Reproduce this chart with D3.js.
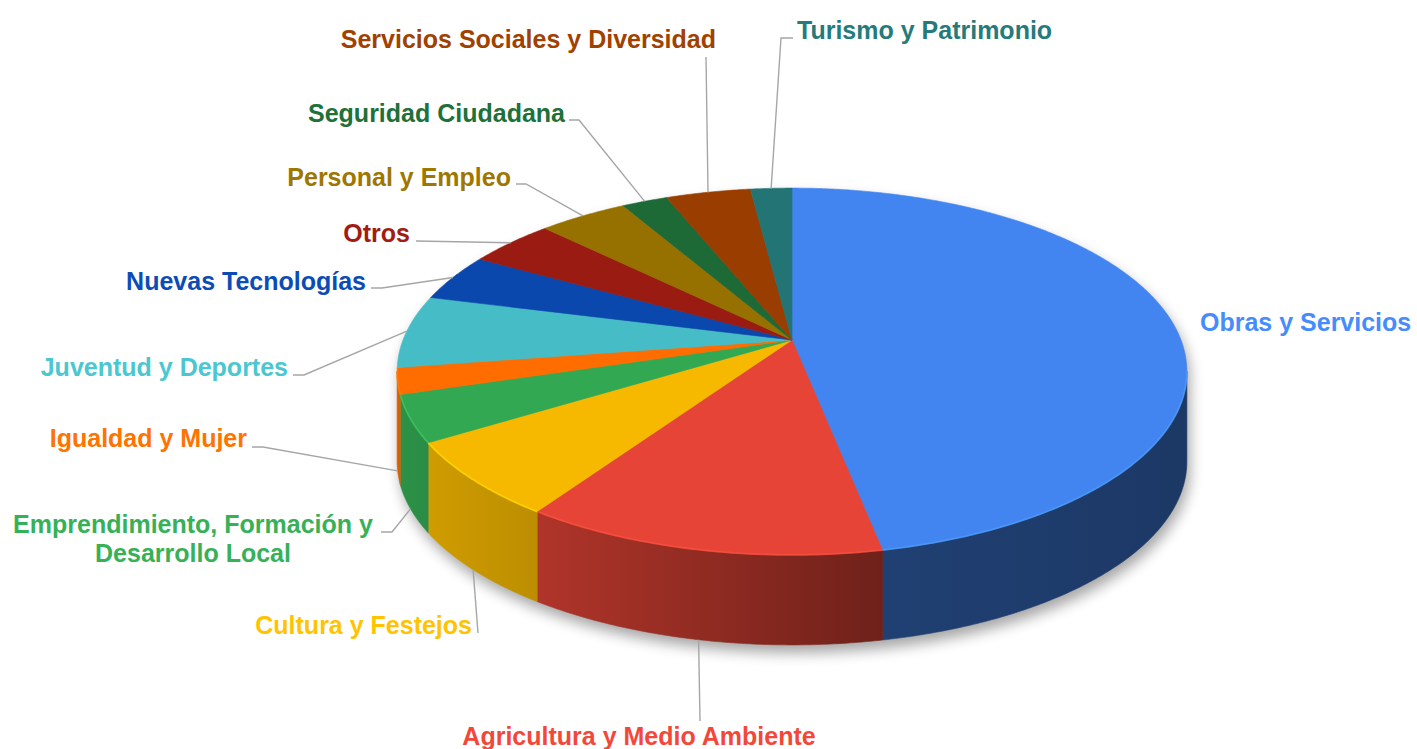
<!DOCTYPE html>
<html>
<head>
<meta charset="utf-8">
<script src="https://cdn.jsdelivr.net/npm/d3@7"></script>
<style>
  body { margin: 0; background: #fff; }
  text { font-family: "Liberation Sans", Arial, sans-serif; font-weight: bold; font-size: 25px; }
</style>
</head>
<body>
<script>
(()=>{
    const width = 1417;
    const height = 749;

    // slices, clockwise from 12 o'clock
    const categories = ["Obras y Servicios", "Agricultura y Medio Ambiente", "Cultura y Festejos",
        "Emprendimiento, Formación y Desarrollo Local", "Igualdad y Mujer", "Juventud y Deportes",
        "Nuevas Tecnologías", "Otros", "Personal y Empleo", "Seguridad Ciudadana",
        "Servicios Sociales y Diversidad", "Turismo y Patrimonio"];
    const values = [46.9, 12.6, 6.7, 4.1, 2.3, 6.4, 4.2, 4.2, 4.3, 2.2, 4.1, 2.0];
    const colors = ["#4285f0", "#e64436", "#f6b900", "#33a852", "#ff6d00", "#46bdc6",
        "#0b48ad", "#9a1b12", "#967100", "#1e6a36", "#993e00", "#237575"];

    // where each label sits and the bends of its leader line (text side first)
    const labelLayout = [
        {x: 1200, y: 331, anchor: "start", lines: ["Obras y Servicios"], leader: null},
        {x: 639, y: 745, anchor: "middle", lines: ["Agricultura y Medio Ambiente"], leader: [[700, 721]]},
        {x: 472, y: 634, anchor: "end", lines: ["Cultura y Festejos"], leader: [[478, 633]]},
        {x: 193, y: 533, anchor: "middle", lines: ["Emprendimiento, Formación y", "Desarrollo Local"], leader: [[381, 532], [392, 532]]},
        {x: 247, y: 447, anchor: "end", lines: ["Igualdad y Mujer"], leader: [[252, 447], [263, 447]]},
        {x: 288, y: 376, anchor: "end", lines: ["Juventud y Deportes"], leader: [[293, 375], [304, 375]]},
        {x: 366, y: 290, anchor: "end", lines: ["Nuevas Tecnologías"], leader: [[371, 288], [382, 288]]},
        {x: 410, y: 242, anchor: "end", lines: ["Otros"], leader: [[416, 241]]},
        {x: 511, y: 186, anchor: "end", lines: ["Personal y Empleo"], leader: [[516, 184], [526, 184]]},
        {x: 565, y: 122, anchor: "end", lines: ["Seguridad Ciudadana"], leader: [[569, 120], [579, 120]]},
        {x: 716, y: 48, anchor: "end", lines: ["Servicios Sociales y Diversidad"], leader: [[706, 57]]},
        {x: 797, y: 39, anchor: "start", lines: ["Turismo y Patrimonio"], leader: [[793, 38], [781, 38]]}
    ];

    const cx = 792, cy = 340;
    const rx = 389, ry = 178;   // top disc
    const persp = 0.1717;       // front of the disc looks bigger
    const depth = 90;           // thickness in px

    function proj(a, z) {
        const u = Math.sin(a), v = -Math.cos(a);
        const s = 1 / (1 - persp * v);
        return [cx + rx * u * s, cy + ry * v * s + z * depth];
    }

    function rimPoints(a0, a1, z) {
        const n = Math.max(2, Math.ceil((a1 - a0) / (Math.PI / 360)));
        const pts = [];
        for (let i = 0; i <= n; i++) pts.push(proj(a0 + (a1 - a0) * i / n, z));
        return pts;
    }

    const svg = d3.create("svg")
        .attr("width", width)
        .attr("height", height)
        .attr("viewBox", [0, 0, width, height]);

    svg.append("rect").attr("width", width).attr("height", height).attr("fill", "#fff");

    const defs = svg.append("defs");
    defs.append("filter").attr("id", "blur")
        .attr("x", "-20%").attr("y", "-20%").attr("width", "140%").attr("height", "140%")
        .append("feGaussianBlur").attr("stdDeviation", 7);

    const pie = d3.pie().sort(null).value(d => d).startAngle(0).endAngle(2 * Math.PI);
    const arcs = pie(values);

    const line = d3.line();
    // side visible between the two silhouette points
    const sideA0 = Math.acos(-persp), sideA1 = 2 * Math.PI - sideA0;

    // soft shadow
    const sh = svg.append("g").attr("filter", "url(#blur)")
        .attr("transform", "translate(3,8)").attr("opacity", 0.35);
    sh.append("path").attr("d", line(rimPoints(0, 2 * Math.PI, 0)) + "Z").attr("fill", "#000");
    sh.append("path").attr("d", line(rimPoints(sideA0, sideA1, 0).concat(rimPoints(sideA0, sideA1, 1).reverse())) + "Z").attr("fill", "#000");

    // side gradients
    const shade = [[0, 0.86], [0.18, 0.76], [0.62, 0.48], [1, 0.42]];
    colors.forEach((c, i) => {
        const g = defs.append("linearGradient").attr("id", "side" + i)
            .attr("gradientUnits", "userSpaceOnUse")
            .attr("x1", cx - rx).attr("x2", cx + rx).attr("y1", 0).attr("y2", 0);
        const base = d3.rgb(c);
        shade.forEach(([o, f]) => {
            g.append("stop").attr("offset", o)
                .attr("stop-color", d3.rgb(base.r * f, base.g * f, base.b * f).formatHex());
        });
    });

    // outer walls
    const sides = svg.append("g");
    arcs.forEach((d, i) => {
        const a0 = Math.max(d.startAngle, sideA0), a1 = Math.min(d.endAngle, sideA1);
        if (a1 <= a0) return;
        const pts = rimPoints(a0, a1, 0).concat(rimPoints(a0, a1, 1).reverse());
        sides.append("path")
            .attr("d", line(pts) + "Z")
            .attr("fill", `url(#side${i})`)
            .attr("stroke", `url(#side${i})`)
            .attr("stroke-width", 0.6);
    });

    // top faces
    const tops = svg.append("g");
    arcs.forEach((d, i) => {
        const pts = [[cx, cy]].concat(rimPoints(d.startAngle, d.endAngle, 0));
        tops.append("path")
            .attr("d", line(pts) + "Z")
            .attr("fill", colors[i])
            .attr("stroke", colors[i])
            .attr("stroke-width", 0.6)
            .append("title").text(categories[i]);
    });

    // light bevel along front rim
    arcs.forEach((d, i) => {
        const a0 = Math.max(d.startAngle, sideA0), a1 = Math.min(d.endAngle, sideA1);
        if (a1 <= a0) return;
        tops.append("path")
            .attr("d", line(rimPoints(a0, a1, 0)))
            .attr("fill", "none")
            .attr("stroke", d3.color(colors[i]).brighter(0.5))
            .attr("stroke-width", 1.8)
            .attr("opacity", 0.7);
    });

    // leader lines + labels
    const labels = svg.append("g");
    arcs.forEach((d, i) => {
        const L = labelLayout[i];
        const mid = (d.startAngle + d.endAngle) / 2;
        const front = mid > Math.PI / 2 && mid < 3 * Math.PI / 2;
        if (L.leader) {
            const pts = L.leader.concat([proj(mid, front ? 1 : 0)]);
            labels.append("path")
                .attr("d", line(pts))
                .attr("fill", "none")
                .attr("stroke", "#a6a6a6")
                .attr("stroke-width", 1.4);
        }
        const t = labels.append("text")
            .attr("x", L.x).attr("y", L.y)
            .attr("text-anchor", L.anchor)
            .attr("fill", d3.color(colors[i]).brighter(0.15));
        L.lines.forEach((s, j) => {
            t.append("tspan").attr("x", L.x).attr("dy", j === 0 ? 0 : 29).text(s);
        });
    });

    d3.select("body").append(() => svg.node());
})()
</script>
</body>
</html>
